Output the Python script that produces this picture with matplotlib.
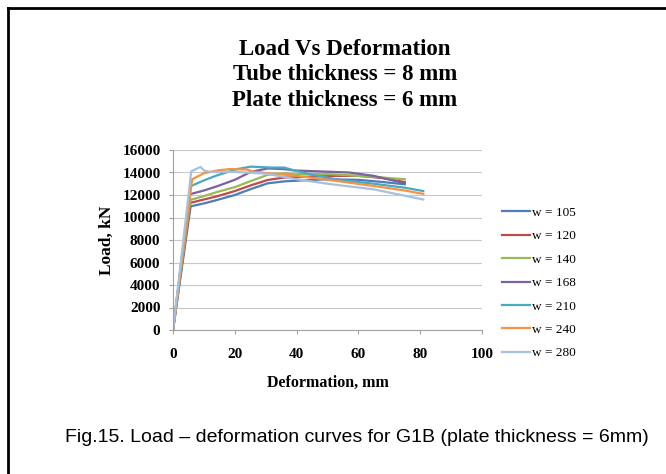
import matplotlib.pyplot as plt
from matplotlib.lines import Line2D

# values
labels = ["w = 105", "w = 120", "w = 140", "w = 168", "w = 210", "w = 240", "w = 280"]
colors = ["#4A7EBB", "#BE4B48", "#98B954", "#7D60A0", "#46AAC5", "#F69240", "#A7C0DE"]

x_105 = [0, 5.7, 10, 14.3, 20, 25.2, 30.7, 36, 41.5, 50, 60, 68, 75]
y_105 = [0, 10990, 11250, 11560, 12000, 12530, 13040, 13210, 13290, 13400, 13350, 13150, 12950]
x_120 = [0, 5.6, 10, 14.3, 20, 25.2, 30.7, 36, 41.5, 51, 60, 68, 75]
y_120 = [0, 11300, 11600, 11890, 12350, 12860, 13340, 13550, 13600, 13700, 13700, 13500, 13150]
x_140 = [0, 5.6, 10, 14.3, 20, 25.2, 30.7, 36, 39.3, 51, 60, 68, 75]
y_140 = [0, 11560, 11900, 12270, 12700, 13240, 13800, 13930, 13850, 13850, 13700, 13550, 13400]
x_168 = [0, 5.5, 10, 14.3, 20, 25.2, 30.7, 36, 39.3, 51, 57, 65, 75]
y_168 = [0, 12070, 12400, 12780, 13350, 14060, 14360, 14300, 14180, 14060, 14000, 13700, 13040]
x_210 = [0, 5.7, 10, 14.3, 20.9, 25.2, 31.7, 36, 39.3, 45, 54, 65, 75, 81]
y_210 = [0, 12780, 13300, 13750, 14310, 14520, 14440, 14440, 14180, 13800, 13340, 13000, 12650, 12350]
x_240 = [0, 6.2, 10, 14.3, 18.7, 24, 26.3, 32, 40, 54, 65, 75, 81]
y_240 = [0, 13400, 13930, 14180, 14310, 14260, 14060, 13900, 13700, 13210, 12800, 12400, 12100]
x_280 = [0, 5.9, 8.9, 10, 12, 20, 30, 40, 50, 65, 81]
y_280 = [0, 14100, 14500, 14180, 14050, 14050, 13900, 13400, 13000, 12500, 11600]

xs = [x_105, x_120, x_140, x_168, x_210, x_240, x_280]
ys = [y_105, y_120, y_140, y_168, y_210, y_240, y_280]

x_ticks = [0, 20, 40, 60, 80, 100]
y_ticks = [0, 2000, 4000, 6000, 8000, 10000, 12000, 14000, 16000]

serif = "Liberation Serif"
W, H = 666, 474

fig = plt.figure(figsize=(6.66, 4.74), dpi=100)
fig.patch.set_facecolor("white")

# frame around the figure (left and top edge only visible)
fig.add_artist(Line2D([8 / W, 8 / W], [0, 1 - 8 / H], color="black", lw=2.0))
fig.add_artist(Line2D([8 / W, 1], [1 - 8 / H, 1 - 8 / H], color="black", lw=2.0))

ax = fig.add_axes([173 / W, 1 - 330 / H, (482 - 173) / W, (330 - 150) / H])
for x, y, lab, c in zip(xs, ys, labels, colors):
    ax.plot(x, y, color=c, lw=1.6, label=lab)

ax.set_xlim(0, 100)
ax.set_ylim(0, 16000)
ax.set_xticks(x_ticks)
ax.set_yticks(y_ticks)
ax.grid(axis="y", color="#C8C8C8", lw=0.8)
ax.set_axisbelow(True)
for s in ["top", "right"]:
    ax.spines[s].set_visible(False)
for s in ["left", "bottom"]:
    ax.spines[s].set_color("#A0A0A0")
    ax.spines[s].set_linewidth(0.8)
ax.tick_params(axis="both", length=3, color="#A0A0A0", width=0.8)
ax.tick_params(axis="x", pad=10)
ax.tick_params(axis="y", pad=6)
for t in ax.get_xticklabels() + ax.get_yticklabels():
    t.set_fontfamily(serif)
    t.set_fontweight("bold")
    t.set_fontsize(11)

ax.set_xlabel("Deformation, mm", fontfamily=serif, fontweight="bold", fontsize=11.5, labelpad=10)
ax.set_ylabel("Load, kN", fontfamily=serif, fontweight="bold", fontsize=12.5, labelpad=5)

fig.text(345 / W, 1 - 39 / H, "Load Vs Deformation\nTube thickness = 8 mm\nPlate thickness = 6 mm",
         ha="center", va="top", fontfamily=serif, fontweight="bold", fontsize=16.5,
         linespacing=1.28)

fig.legend(*ax.get_legend_handles_labels(), loc="center left",
           bbox_to_anchor=(490 / W, 1 - 283 / H), frameon=False,
           prop={"family": serif, "size": 9.5}, handlelength=2.1, handletextpad=0.15,
           labelspacing=0.85)

fig.text(357 / W, 1 - 437 / H, "Fig.15. Load \u2013 deformation curves for G1B (plate thickness = 6mm)",
         ha="center", va="center", fontfamily="Liberation Sans", fontsize=14)

fig.savefig("out.png", dpi=100)
